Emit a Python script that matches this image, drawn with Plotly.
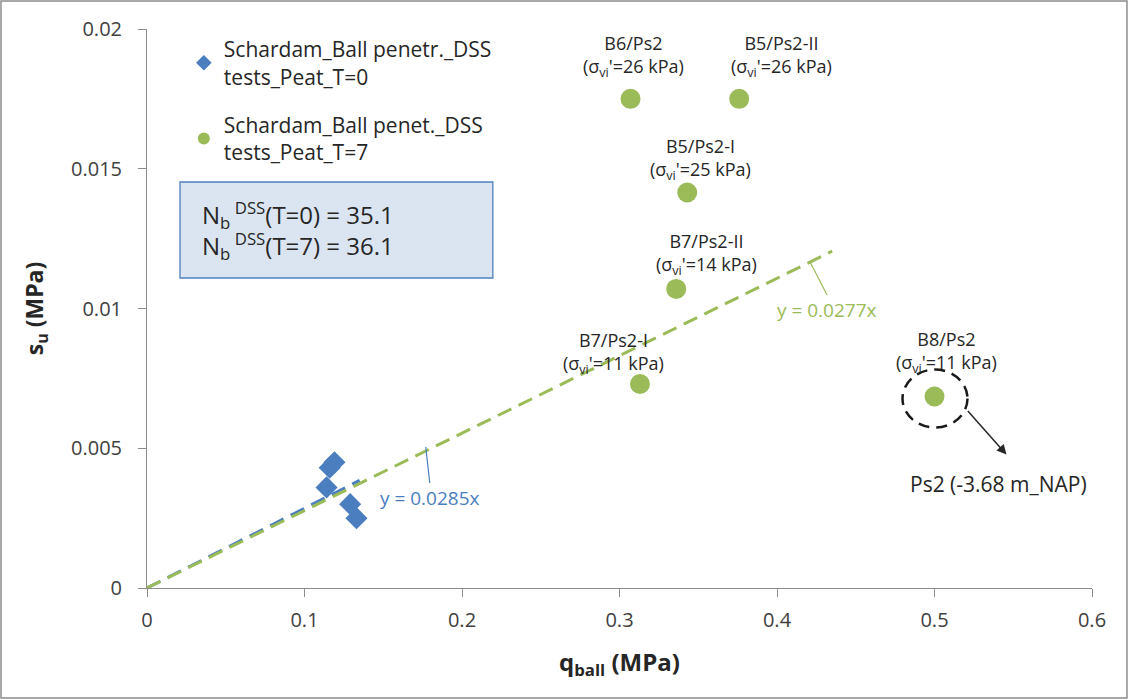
import plotly.graph_objects as go

# ---- data ----
t0_q = [0.116, 0.119, 0.114, 0.129, 0.133]
t0_su = [0.0043, 0.0045, 0.0036, 0.0030, 0.0025]

t7_q = [0.307, 0.376, 0.343, 0.336, 0.313, 0.500]
t7_su = [0.0175, 0.0175, 0.01415, 0.0107, 0.0073, 0.00685]
t7_names = ["B6/Ps2", "B5/Ps2-II", "B5/Ps2-I", "B7/Ps2-II", "B7/Ps2-I", "B8/Ps2"]
t7_sigma = [26, 26, 25, 14, 11, 11]
label_xshift = [3, 42, 13, 30, -26, 12]
label_yshift = [16, 16, 7, 8, 4, 18]

slope_t0 = 0.0285
slope_t7 = 0.0277
fit_t0_x = [0, 0.135]
fit_t7_x = [0, 0.435]

nb_t0 = 35.1
nb_t7 = 36.1

x_ticks = [0, 0.1, 0.2, 0.3, 0.4, 0.5, 0.6]
x_tick_text = ["0", "0.1", "0.2", "0.3", "0.4", "0.5", "0.6"]
y_ticks = [0, 0.005, 0.01, 0.015, 0.02]
y_tick_text = ["0", "0.005", "0.01", "0.015", "0.02"]

BLUE = "#4a7ebf"
GREEN = "#9bbb59"
DARK = "#262626"
FONT = "Open Sans, Lato, sans-serif"

fig = go.Figure()

fig.add_trace(go.Scatter(
    x=fit_t0_x, y=[slope_t0 * v for v in fit_t0_x], mode="lines",
    line=dict(color=BLUE, width=3, dash="15px,8px"), showlegend=False, hoverinfo="skip"))
fig.add_trace(go.Scatter(
    x=fit_t7_x, y=[slope_t7 * v for v in fit_t7_x], mode="lines",
    line=dict(color=GREEN, width=3, dash="15px,8px"), showlegend=False, hoverinfo="skip"))

fig.add_trace(go.Scatter(
    x=t0_q, y=t0_su, mode="markers", legendgroup="a",
    marker=dict(symbol="diamond", size=17, color=BLUE),
    name="Schardam_Ball penetr._DSS<br>tests_Peat_T=0"))
fig.add_trace(go.Scatter(
    x=t7_q, y=t7_su, mode="markers", legendgroup="b",
    marker=dict(symbol="circle", size=20, color=GREEN),
    name="Schardam_Ball penet._DSS<br>tests_Peat_T=7"))

annotations = []
for xq, ys, nm, sg, xs, yshf in zip(t7_q, t7_su, t7_names, t7_sigma, label_xshift, label_yshift):
    annotations.append(dict(
        x=xq, y=ys, xref="x", yref="y", showarrow=False,
        text=f"{nm}<br>(σ<sub>vi</sub>'={sg} kPa)",
        yanchor="bottom", xanchor="center", yshift=yshf, xshift=xs,
        font=dict(family=FONT, size=18, color=DARK), align="center"))

# trendline labels with leader lines
annotations.append(dict(
    x=0.177, y=slope_t0 * 0.177, xref="x", yref="y", showarrow=True,
    arrowhead=0, arrowwidth=1.2, arrowcolor=BLUE, ax=4, ay=36,
    text="y = 0.0285x", xanchor="center", yanchor="top",
    font=dict(family=FONT, size=19, color=BLUE)))
annotations.append(dict(
    x=0.421, y=slope_t7 * 0.421, xref="x", yref="y", showarrow=True,
    arrowhead=0, arrowwidth=1.2, arrowcolor=GREEN, ax=17, ay=33,
    text="y = 0.0277x", xanchor="center", yanchor="top",
    font=dict(family=FONT, size=19, color=GREEN)))

# Ps2 arrow and label
annotations.append(dict(
    x=t7_q[5], y=t7_su[5], xref="x", yref="y", showarrow=True,
    arrowhead=2, arrowsize=1.3, arrowwidth=1.5, arrowcolor=DARK,
    ax=-40, ay=-45, xshift=72, yshift=-58, text=""))
annotations.append(dict(
    x=t7_q[5], y=t7_su[5], xref="x", yref="y", showarrow=False,
    text="Ps2 (-3.68 m_NAP)", xanchor="center", yanchor="middle",
    xshift=64, yshift=-87,
    font=dict(family=FONT, size=21, color=DARK)))

# N_b text box
annotations.append(dict(
    x=0.056, y=0.64, xref="paper", yref="paper", showarrow=False,
    text=f"N<sub>b</sub><sup> DSS</sup>(T=0) = {nb_t0}<br>N<sub>b</sub><sup> DSS</sup>(T=7) = {nb_t7}",
    xanchor="left", yanchor="middle", align="left",
    font=dict(family=FONT, size=24, color=DARK)))

shapes = [
    dict(type="rect", xref="paper", yref="paper", x0=0.0349, x1=0.366, y0=0.5546, y1=0.7263,
         fillcolor="#dbe5f1", line=dict(color="#4f81bd", width=1.3), layer="below"),
    dict(type="circle", xref="x", yref="y", xsizemode="pixel", ysizemode="pixel",
         xanchor=t7_q[5], yanchor=t7_su[5], x0=-32, x1=33, y0=-31, y1=27,
         line=dict(color="#1a1a1a", width=2.5, dash="11px,7px")),
    dict(type="rect", xref="paper", yref="paper", x0=-0.1545, x1=1.037, y0=-0.1968, y1=1.050,
         line=dict(color="#8c8c8c", width=1.5)),
]

fig.update_layout(
    annotations=annotations, shapes=shapes,
    width=1130, height=700,
    margin=dict(l=147, r=38, t=29, b=112),
    paper_bgcolor="white", plot_bgcolor="white",
    font=dict(family=FONT, size=20, color="#404040"),
    legend=dict(x=0.039, y=1.0, xanchor="left", yanchor="top",
                bgcolor="rgba(0,0,0,0)", font=dict(family=FONT, size=21, color=DARK),
                itemsizing="constant", tracegroupgap=18),
    xaxis=dict(range=[0, 0.6], tickvals=x_ticks, ticktext=x_tick_text,
               showgrid=False, zeroline=False, showline=True, linecolor="#8c8c8c",
               ticks="outside", ticklen=8, tickcolor="#8c8c8c", ticklabelstandoff=6,
               tickfont=dict(size=20, color="#404040"),
               title=dict(text="<b>q<sub>ball</sub> (MPa)</b>", font=dict(size=24, color=DARK), standoff=22)),
    yaxis=dict(range=[0, 0.02], tickvals=y_ticks, ticktext=y_tick_text,
               showgrid=False, zeroline=False, showline=True, linecolor="#8c8c8c",
               ticks="outside", ticklen=8, tickcolor="#8c8c8c", ticklabelstandoff=12,
               tickfont=dict(size=20, color="#404040"),
               title=dict(text="<b>s<sub>u</sub> (MPa)</b>", font=dict(size=23, color=DARK), standoff=20)),
)

fig.write_html("out.html", config={"displayModeBar": False},
               post_script="document.body.style.margin='0';")
